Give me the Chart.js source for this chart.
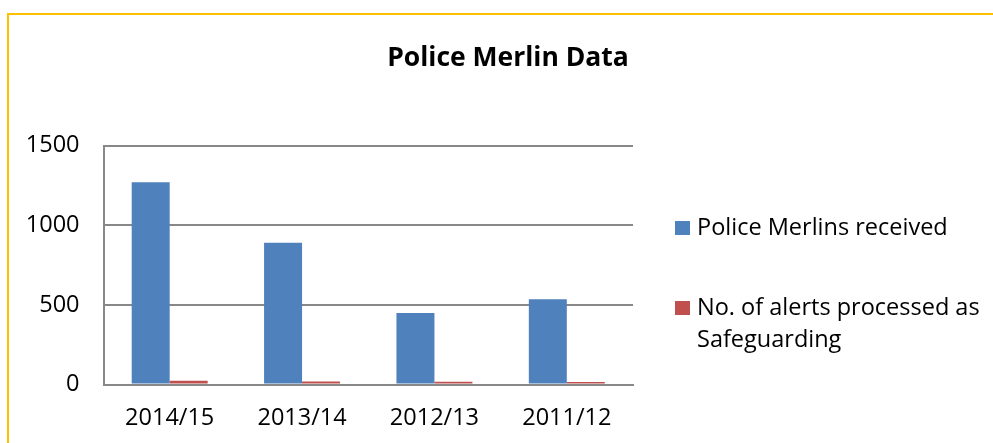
<!DOCTYPE html>
<html>
<head>
<meta charset="utf-8">
<script src="https://cdn.jsdelivr.net/npm/chart.js@4.4.1/dist/chart.umd.min.js"></script>
<style>
  html, body { margin: 0; padding: 0; background: #fff; }
  body { width: 993px; height: 443px; position: relative; overflow: hidden; font-family: "Open Sans", sans-serif; }
  #frame { position: absolute; left: 7px; top: 13px; right: -10px; bottom: -10px; border-left: 2px solid #FFC000; border-top: 2px solid #FFC000; }
  #wrap { position: absolute; left: 0; top: 0; width: 993px; height: 443px; }
  #title { position: absolute; left: 308px; width: 400px; top: 38px; text-align: center; font-size: 26.5px; font-weight: bold; color: #000; line-height: 36px; }
  #legend { position: absolute; left: 675px; top: 210px; font-size: 23.5px; color: #000; }
  .item { position: relative; padding-left: 22px; line-height: 32px; width: 320px; }
  .box { position: absolute; left: 0; top: 11px; width: 15px; height: 14px; }
</style>
</head>
<body>
<div id="frame"></div>
<div id="wrap"><canvas id="myChart" width="993" height="443"></canvas></div>
<div id="title">Police Merlin Data</div>
<div id="legend"></div>
<script>
const years = ['2014/15', '2013/14', '2012/13', '2011/12'];
const merlinsReceived = [1270, 890, 448, 535];
const safeguardingAlerts = [24, 19, 17, 16];
const yTicks = [0, 500, 1000, 1500];

const ctx = document.getElementById('myChart').getContext('2d');
const myChart = new Chart(ctx, {
    type: 'bar',
    data: {
        labels: years,
        datasets: [{
            label: 'Police Merlins received',
            data: merlinsReceived,
            backgroundColor: '#4F81BD',
            categoryPercentage: 0.574,
            barPercentage: 1
        }, {
            label: 'No. of alerts processed as Safeguarding',
            data: safeguardingAlerts,
            backgroundColor: '#C0504D',
            categoryPercentage: 0.574,
            barPercentage: 1
        }]
    },
    options: {
        responsive: false,
        animation: false,
        layout: { padding: { left: 0, right: 360, top: 145.5, bottom: 0 } },
        plugins: {
            legend: { display: false },
            tooltip: { enabled: false },
            title: { display: false }
        },
        scales: {
            x: {
                grid: { display: false },
                border: { display: true, color: '#888', width: 2 },
                ticks: { color: '#000', font: { family: 'Open Sans', size: 23.5 }, padding: 12 },
                afterFit: (scale) => { scale.height = 58.5; }
            },
            y: {
                min: 0,
                max: 1500,
                afterBuildTicks: (scale) => { scale.ticks = yTicks.map(v => ({ value: v })); },
                grid: { color: '#888', lineWidth: 2, drawTicks: false },
                border: { display: true, color: '#888', width: 2 },
                ticks: { color: '#000', font: { family: 'Open Sans', size: 23.5 }, padding: 24, callback: (v) => String(v) },
                afterFit: (scale) => { scale.width = 103.5; }
            }
        }
    }
});

const legend = document.getElementById('legend');
const gaps = [0, 48];
myChart.data.datasets.forEach((ds, i) => {
    const item = document.createElement('div');
    item.className = 'item';
    item.style.marginTop = gaps[i] + 'px';
    item.innerHTML = `<span class="box" style="background:${ds.backgroundColor}"></span>${ds.label.replace(' Safeguarding', '<br>Safeguarding')}`;
    legend.appendChild(item);
});
</script>
</body>
</html>
